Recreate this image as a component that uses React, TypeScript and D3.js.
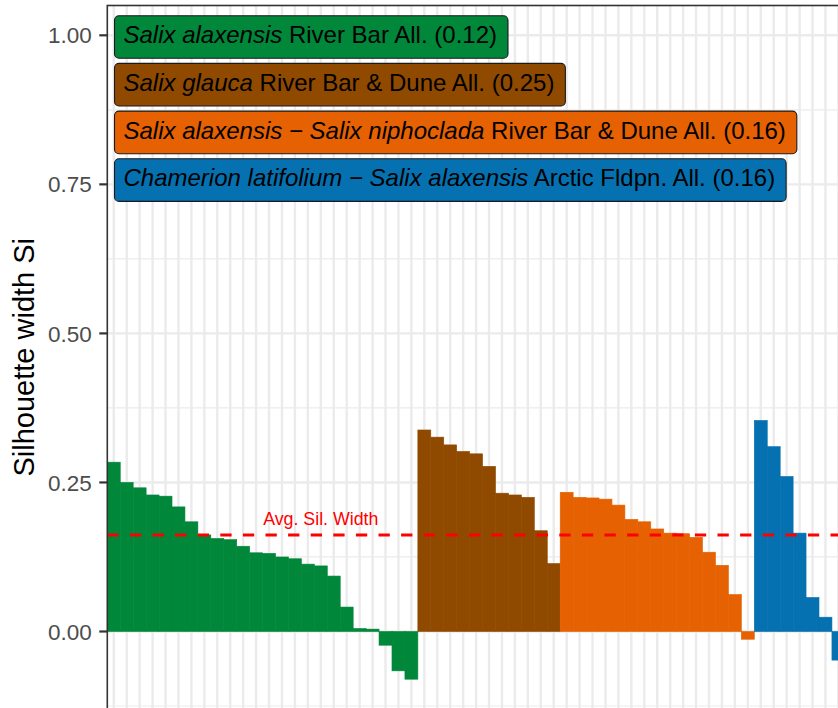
import React, { useEffect, useRef } from "react";
import * as d3 from "d3";

const WIDTH = 838;
const HEIGHT = 708;

// silhouette widths per cluster (sorted within cluster)
const greenValues = [0.284, 0.25, 0.241, 0.229, 0.227, 0.209, 0.184, 0.162, 0.156, 0.154, 0.143, 0.132, 0.131, 0.125, 0.122, 0.113, 0.11, 0.093, 0.041, 0.005, 0.004, -0.023, -0.066, -0.08];
const brownValues = [0.338, 0.326, 0.313, 0.302, 0.298, 0.277, 0.232, 0.229, 0.225, 0.169, 0.114];
const orangeValues = [0.2335, 0.225, 0.224, 0.222, 0.212, 0.188, 0.184, 0.172, 0.165, 0.164, 0.158, 0.133, 0.111, 0.062, -0.013];
const blueValues = [0.354, 0.31, 0.26, 0.165, 0.057, 0.024, -0.048];

const clusterValues = [greenValues, brownValues, orangeValues, blueValues];
const clusterColors = ["#00873a", "#8f4a00", "#e66101", "#0571b0"];
const clusterItalic = [
  "Salix alaxensis",
  "Salix glauca",
  "Salix alaxensis \u2212 Salix niphoclada",
  "Chamerion latifolium \u2212 Salix alaxensis",
];
const clusterPlain = [
  " River Bar All.",
  " River Bar & Dune All.",
  " River Bar & Dune All.",
  " Arctic Fldpn. All.",
];
const clusterAvg = ["0.12", "0.25", "0.16", "0.16"];

const yTicks = [0, 0.25, 0.5, 0.75, 1.0];
const yMinorTicks = [-0.125, 0.125, 0.375, 0.625, 0.875];
const avgSilWidth = 0.162;
const avgLabel = "Avg. Sil. Width";
const avgLabelIndex = 16;
const yTitle = "Silhouette width Si";

const FONT = "'Liberation Sans', Arial, Helvetica, sans-serif";

export default function App() {
  const ref = useRef<SVGSVGElement | null>(null);

  useEffect(() => {
    const svg = d3.select(ref.current);
    svg.selectAll("*").remove();

    const rows: { id: string; value: number; cluster: number }[] = [];
    clusterValues.forEach((vals, ci) =>
      vals.forEach((v, i) => rows.push({ id: `${ci}-${i}`, value: v, cluster: ci }))
    );

    const panelLeft = 107.3;
    const barW = 12.94;
    const panelTop = 5.5;
    const panelBottom = 709;
    const panelRight = panelLeft + rows.length * barW;

    const x = d3
      .scaleBand<string>()
      .domain(rows.map((r) => r.id))
      .range([panelLeft, panelRight])
      .padding(0);
    const y = d3.scaleLinear().domain([-0.13, 1.05]).range([panelBottom, panelTop]);

    const g = svg.append("g");

    g.append("rect")
      .attr("x", panelLeft)
      .attr("y", panelTop)
      .attr("width", panelRight - panelLeft)
      .attr("height", panelBottom - panelTop)
      .attr("fill", "#ffffff");

    g.selectAll(".hminor")
      .data(yMinorTicks)
      .join("line")
      .attr("x1", panelLeft)
      .attr("x2", panelRight)
      .attr("y1", (d) => y(d))
      .attr("y2", (d) => y(d))
      .attr("stroke", "#ebebeb")
      .attr("stroke-width", 1.2);

    g.selectAll(".hmajor")
      .data(yTicks)
      .join("line")
      .attr("x1", panelLeft)
      .attr("x2", panelRight)
      .attr("y1", (d) => y(d))
      .attr("y2", (d) => y(d))
      .attr("stroke", "#ebebeb")
      .attr("stroke-width", 2.4);

    g.selectAll(".vgrid")
      .data(rows)
      .join("line")
      .attr("x1", (d) => (x(d.id) as number) + x.bandwidth() / 2)
      .attr("x2", (d) => (x(d.id) as number) + x.bandwidth() / 2)
      .attr("y1", panelTop)
      .attr("y2", panelBottom)
      .attr("stroke", "#ebebeb")
      .attr("stroke-width", 2.4);

    g.selectAll(".bar")
      .data(rows)
      .join("rect")
      .attr("x", (d) => x(d.id) as number)
      .attr("width", x.bandwidth())
      .attr("y", (d) => y(Math.max(0, d.value)))
      .attr("height", (d) => Math.abs(y(d.value) - y(0)))
      .attr("fill", (d) => clusterColors[d.cluster])
      .attr("stroke", (d) => clusterColors[d.cluster])
      .attr("stroke-width", 0.6);

    g.append("line")
      .attr("x1", panelLeft)
      .attr("x2", panelRight)
      .attr("y1", y(avgSilWidth))
      .attr("y2", y(avgSilWidth))
      .attr("stroke", "#ff0000")
      .attr("stroke-width", 3)
      .attr("stroke-dasharray", "11.3,11.3");

    const labelRow = rows[avgLabelIndex];
    g.append("text")
      .attr("x", (x(labelRow.id) as number) + x.bandwidth() / 2)
      .attr("y", y(avgSilWidth) - 10)
      .attr("text-anchor", "middle")
      .attr("font-family", FONT)
      .attr("font-size", 17.8)
      .attr("fill", "#ff0000")
      .text(avgLabel);

    const boxLeft = 114.5;
    const boxTop0 = 15.7;
    const boxStep = 47.7;
    const boxH = 42.6;
    clusterColors.forEach((col, i) => {
      const top = boxTop0 + i * boxStep;
      const bg = g.append("g");
      const rect = bg
        .append("rect")
        .attr("x", boxLeft)
        .attr("y", top)
        .attr("height", boxH)
        .attr("rx", 4.5)
        .attr("ry", 4.5)
        .attr("fill", col)
        .attr("stroke", "#1a1a1a")
        .attr("stroke-width", 1.1);
      const t = bg
        .append("text")
        .attr("x", boxLeft + 9)
        .attr("y", top + 27.6)
        .attr("font-family", FONT)
        .attr("font-size", 24)
        .attr("fill", "#000000");
      t.append("tspan").attr("font-style", "italic").text(clusterItalic[i]);
      t.append("tspan").text(`${clusterPlain[i]} (${clusterAvg[i]})`);
      const len = (t.node() as SVGTextElement).getComputedTextLength();
      rect.attr("width", len + 20);
    });

    g.append("rect")
      .attr("x", panelLeft)
      .attr("y", panelTop)
      .attr("width", panelRight - panelLeft)
      .attr("height", panelBottom - panelTop)
      .attr("fill", "none")
      .attr("stroke", "#333333")
      .attr("stroke-width", 1.6);

    const axis = g.append("g");
    axis
      .selectAll("line")
      .data(yTicks)
      .join("line")
      .attr("x1", panelLeft - 8)
      .attr("x2", panelLeft)
      .attr("y1", (d) => y(d))
      .attr("y2", (d) => y(d))
      .attr("stroke", "#333333")
      .attr("stroke-width", 2.2);
    axis
      .selectAll("text")
      .data(yTicks)
      .join("text")
      .attr("x", panelLeft - 15.5)
      .attr("y", (d) => y(d))
      .attr("dy", "0.36em")
      .attr("text-anchor", "end")
      .attr("font-family", FONT)
      .attr("font-size", 22.5)
      .attr("fill", "#4d4d4d")
      .text((d) => d3.format(".2f")(d));

    g.append("text")
      .attr("transform", `translate(34,${(panelTop + panelBottom) / 2}) rotate(-90)`)
      .attr("text-anchor", "middle")
      .attr("font-family", FONT)
      .attr("font-size", 29)
      .attr("fill", "#000000")
      .text(yTitle);
  }, []);

  return (
    <svg
      ref={ref}
      width={WIDTH}
      height={HEIGHT}
      style={{ position: "absolute", left: 0, top: 0, background: "#ffffff" }}
    />
  );
}
